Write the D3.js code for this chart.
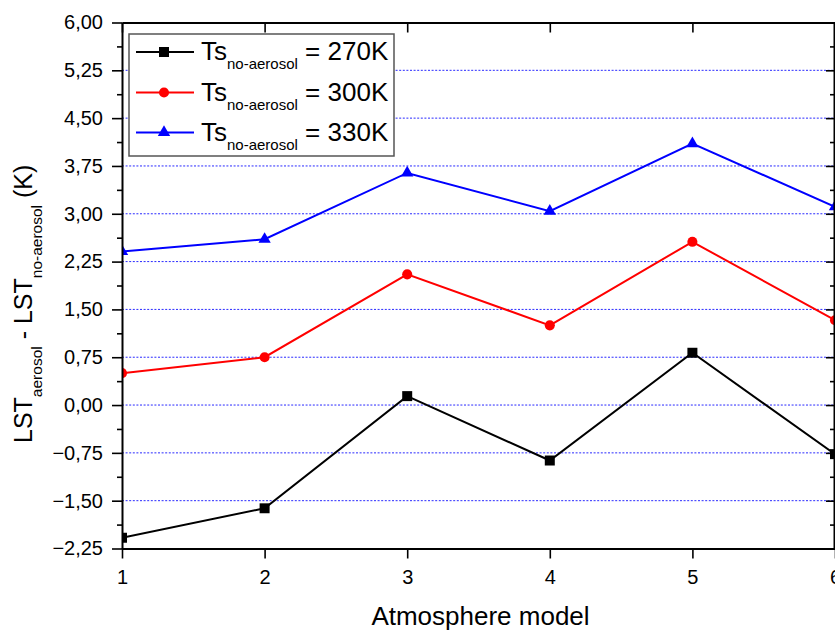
<!DOCTYPE html>
<html>
<head>
<meta charset="utf-8">
<script src="https://cdn.jsdelivr.net/npm/d3@7"></script>
<style>
  html, body { margin: 0; padding: 0; background: #fff; }
  svg { display: block; font-family: "Liberation Sans", Arial, sans-serif; }
</style>
</head>
<body>
<svg id="chart" width="835" height="633"></svg>
<script>
// Atmosphere models on the x axis
const models = [1, 2, 3, 4, 5, 6];
// LST difference (aerosol minus no-aerosol), in K, per surface temperature
const ts270 = [-2.08, -1.62, 0.14, -0.87, 0.82, -0.77];
const ts300 = [0.50, 0.75, 2.05, 1.25, 2.56, 1.33];
const ts330 = [2.41, 2.60, 3.64, 3.04, 4.10, 3.11];
// Axis ticks
const yMajorTicks = [-2.25, -1.5, -0.75, 0, 0.75, 1.5, 2.25, 3, 3.75, 4.5, 5.25, 6];
const yMinorTicks = [-1.875, -1.125, -0.375, 0.375, 1.125, 1.875, 2.625, 3.375, 4.125, 4.875, 5.625];
const legendLabels = ["= 270K", "= 300K", "= 330K"];

const series = [
  { values: ts270, color: "#000000", symbol: d3.symbolSquare, size: 100, label: legendLabels[0] },
  { values: ts300, color: "#ff0000", symbol: d3.symbolCircle, size: 80, label: legendLabels[1] },
  { values: ts330, color: "#0000ff", symbol: d3.symbolTriangle, size: 66, label: legendLabels[2] }
];

const plotLeft = 122, plotRight = 835, plotTop = 22.5, plotBottom = 548.5;
const svg = d3.select("#chart");

const x = d3.scaleLinear().domain([1, 6]).range([plotLeft, plotRight]);
const y = d3.scaleLinear().domain([-2.25, 6]).range([plotBottom, plotTop]);

const comma = d3.formatLocale({ decimal: ",", thousands: ".", grouping: [3], currency: ["", ""] }).format(".2f");

// Horizontal grid lines at inner major ticks
svg.append("g")
  .selectAll("line")
  .data(yMajorTicks.filter(v => v > -2.25 && v < 6))
  .join("line")
  .attr("x1", plotLeft).attr("x2", plotRight)
  .attr("y1", d => y(d)).attr("y2", d => y(d))
  .attr("stroke", "#2a2aff")
  .attr("stroke-width", 1)
  .attr("stroke-dasharray", "2,1.6");

// Data lines and markers, clipped to the plot frame
svg.append("clipPath").attr("id", "plotclip")
  .append("rect").attr("x", plotLeft).attr("y", plotTop)
  .attr("width", plotRight - plotLeft).attr("height", plotBottom - plotTop);

const plot = svg.append("g").attr("clip-path", "url(#plotclip)");
const line = d3.line().x((d, i) => x(models[i])).y(d => y(d));

series.forEach(s => {
  plot.append("path")
    .attr("d", line(s.values))
    .attr("fill", "none")
    .attr("stroke", s.color)
    .attr("stroke-width", 2);
  plot.append("g")
    .selectAll("path")
    .data(s.values)
    .join("path")
    .attr("transform", (d, i) => `translate(${x(models[i])},${y(d)})`)
    .attr("d", d3.symbol().type(s.symbol).size(s.size)())
    .attr("fill", s.color);
});

// Axes
function styleAxis(g) {
  g.select(".domain").attr("stroke", "#000").attr("stroke-width", 2);
  g.selectAll(".tick line").attr("stroke", "#000").attr("stroke-width", 1.6);
  g.selectAll(".tick text").attr("fill", "#000").attr("font-size", 20)
    .attr("font-family", "'Liberation Sans', Arial, sans-serif");
}

svg.append("g")
  .attr("transform", `translate(0,${plotBottom})`)
  .call(d3.axisBottom(x).tickValues(models).tickFormat(d3.format("d"))
    .tickSize(10).tickSizeOuter(0).tickPadding(11))
  .call(styleAxis);

svg.append("g")
  .attr("transform", `translate(0,${plotTop})`)
  .call(d3.axisTop(x).tickValues(models).tickFormat("")
    .tickSize(-10).tickSizeOuter(0))
  .call(styleAxis);

svg.append("g")
  .attr("transform", `translate(${plotLeft},0)`)
  .call(d3.axisLeft(y).tickValues(yMajorTicks).tickFormat(comma)
    .tickSize(10).tickSizeOuter(0).tickPadding(9))
  .call(styleAxis);

svg.append("g")
  .attr("transform", `translate(${plotLeft},0)`)
  .call(d3.axisLeft(y).tickValues(yMinorTicks).tickFormat("")
    .tickSize(5).tickSizeOuter(0))
  .call(g => g.select(".domain").remove())
  .call(g => g.selectAll(".tick line").attr("stroke", "#000").attr("stroke-width", 1.6));

svg.append("g")
  .attr("transform", `translate(${plotRight - 1},0)`)
  .call(d3.axisRight(y).tickValues(yMajorTicks).tickFormat("")
    .tickSize(-8).tickSizeOuter(0))
  .call(styleAxis);

svg.append("g")
  .attr("transform", `translate(${plotRight - 1},0)`)
  .call(d3.axisRight(y).tickValues(yMinorTicks).tickFormat("")
    .tickSize(-4).tickSizeOuter(0))
  .call(g => g.select(".domain").remove())
  .call(g => g.selectAll(".tick line").attr("stroke", "#000").attr("stroke-width", 1.6));

// Axis titles
svg.append("text")
  .attr("x", (plotLeft + plotRight) / 2 + 2)
  .attr("y", 625)
  .attr("text-anchor", "middle")
  .attr("font-size", 26)
  .text("Atmosphere model");

const yTitle = svg.append("text")
  .attr("transform", "translate(32,443) rotate(-90)")
  .attr("font-size", 25);
yTitle.append("tspan").text("LST");
yTitle.append("tspan").attr("font-size", 15.5).attr("dy", 10).text("aerosol");
yTitle.append("tspan").attr("dy", -10).text(" - LST");
yTitle.append("tspan").attr("font-size", 15.5).attr("dy", 10).text("no-aerosol");
yTitle.append("tspan").attr("dy", -10).text(" (K)");

// Legend
const legend = svg.append("g");
legend.append("rect")
  .attr("x", 129).attr("y", 34).attr("width", 265).attr("height", 122)
  .attr("fill", "#fff").attr("stroke", "#555").attr("stroke-width", 1.5);

const rows = [52, 92.5, 132.5];
series.forEach((s, i) => {
  const g = legend.append("g").attr("transform", `translate(0,${rows[i]})`);
  g.append("line").attr("x1", 136).attr("x2", 194).attr("y1", 0).attr("y2", 0)
    .attr("stroke", s.color).attr("stroke-width", 2);
  g.append("path").attr("transform", "translate(164,0)")
    .attr("d", d3.symbol().type(s.symbol).size(s.size)())
    .attr("fill", s.color);
  const t = g.append("text").attr("x", 201).attr("y", 8).attr("font-size", 26);
  t.append("tspan").text("Ts");
  t.append("tspan").attr("font-size", 15).attr("dy", 9).text("no-aerosol");
  t.append("tspan").attr("dy", -9).text(" " + s.label);
});
</script>
</body>
</html>
